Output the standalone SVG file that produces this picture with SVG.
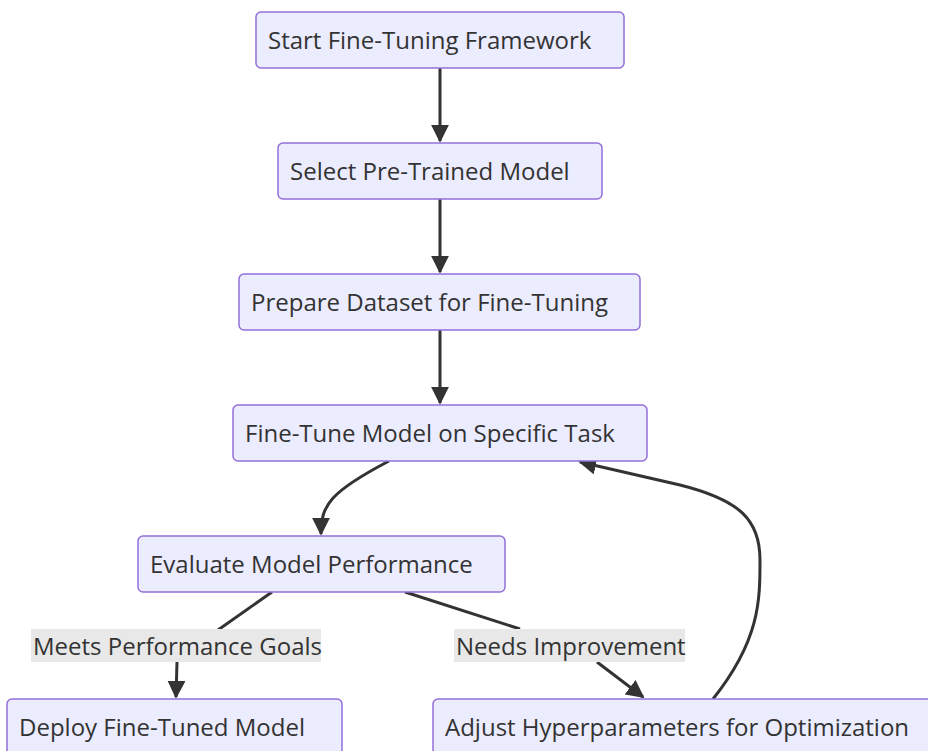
<svg xmlns="http://www.w3.org/2000/svg" width="928" height="751" viewBox="0 0 928 751">
<style>
.node rect{fill:#ECECFF;stroke:#9370DB;stroke-width:1.5}
.node text,.lbl text{font-family:"Open Sans",sans-serif;font-size:24px;fill:#333}
.edges path{fill:none;stroke:#333;stroke-width:3}
.lbl rect{fill:#e8e8e8}
</style>
<defs>
<marker id="ah" viewBox="0 0 10 10" refX="9" refY="5" markerWidth="18" markerHeight="18" markerUnits="userSpaceOnUse" orient="auto"><path d="M0,0 L10,5 L0,10 z" fill="#333"/></marker>
</defs>
<rect width="928" height="751" fill="#fff"/>
<g class="edges">
<path d="M440,68 L440,141" marker-end="url(#ah)"/>
<path d="M440,199 L440,272" marker-end="url(#ah)"/>
<path d="M440,330 L440,403" marker-end="url(#ah)"/>
<path d="M389,461 C330,492 321,505 321,534" marker-end="url(#ah)"/>
<path d="M272,592 L218,630"/>
<path d="M177,662 L176,697" marker-end="url(#ah)"/>
<path d="M405,592 L520,629"/>
<path d="M597,662 L643,697" marker-end="url(#ah)"/>
<path d="M713,699 C760,640 760,600 760,560 C760,520 740,500 680,485 L580,462" marker-end="url(#ah)"/>
</g>
<g class="lbl">
<rect x="31" y="629" width="290" height="33"/>
<text x="33" y="655">Meets Performance Goals</text>
<rect x="454" y="629" width="231" height="33"/>
<text x="456" y="655">Needs Improvement</text>
</g>
<g id="start" class="node"><rect x="256" y="12" width="368" height="56" rx="5"/><text x="268" y="49">Start Fine-Tuning Framework</text></g>
<g id="select" class="node"><rect x="278" y="143" width="324" height="56" rx="5"/><text x="290" y="180">Select Pre-Trained Model</text></g>
<g id="prepare" class="node"><rect x="239" y="274" width="401" height="56" rx="5"/><text x="251" y="311">Prepare Dataset for Fine-Tuning</text></g>
<g id="finetune" class="node"><rect x="233" y="405" width="414" height="56" rx="5"/><text x="245" y="442">Fine-Tune Model on Specific Task</text></g>
<g id="evaluate" class="node"><rect x="138" y="536" width="367" height="56" rx="5"/><text x="150" y="573">Evaluate Model Performance</text></g>
<g id="deploy" class="node"><rect x="7" y="699" width="335" height="56" rx="5"/><text x="19" y="736">Deploy Fine-Tuned Model</text></g>
<g id="adjust" class="node"><rect x="433" y="699" width="500" height="56" rx="5"/><text x="445" y="736">Adjust Hyperparameters for Optimization</text></g>
</svg>
